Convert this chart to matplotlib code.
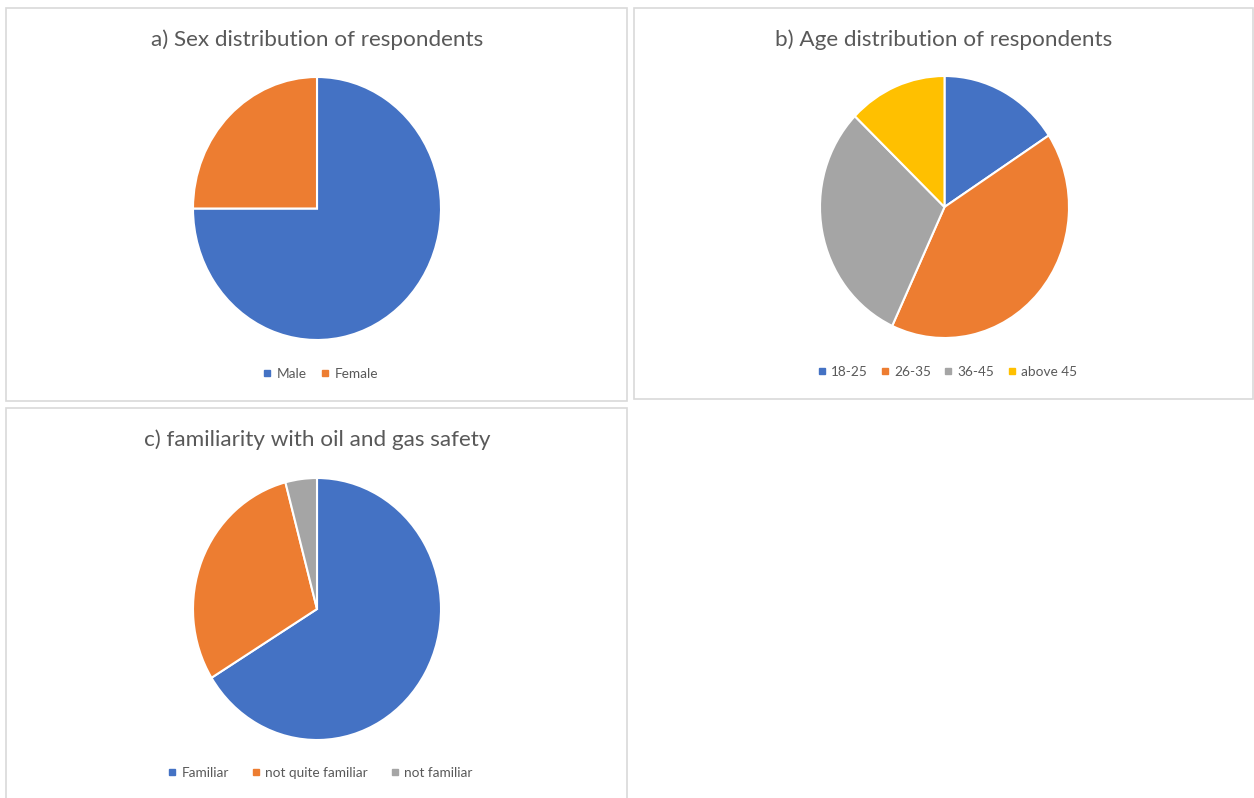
import matplotlib.pyplot as plt
from matplotlib.lines import Line2D
from matplotlib.patches import Rectangle

# data
sex_labels = ['Male', 'Female']
sex_values = [75, 25]

age_labels = ['18-25', '26-35', '36-45', 'above 45']
age_values = [15.8, 41.1, 30.3, 12.8]

fam_labels = ['Familiar', 'not quite familiar', 'not familiar']
fam_values = [66.2, 29.7, 4.1]

colors = ['#4472C4', '#ED7D31', '#A5A5A5', '#FFC000']
text_col = '#595959'

W, H = 1254, 798
fig = plt.figure(figsize=(W / 100, H / 100), dpi=100)


def px_rect(x0, y0, x1, y1):
    # pixel box (top-left origin) -> figure fraction [l, b, w, h]
    return [x0 / W, (H - y1) / H, (x1 - x0) / W, (y1 - y0) / H]


def panel(box, title, title_xy, labels, values, pie_box, leg_xy, colspacing):
    l, b, w, h = px_rect(*box)
    fig.patches.append(Rectangle((l, b), w, h, transform=fig.transFigure,
                                 fill=False, edgecolor='#D9D9D9', linewidth=1.2))
    fig.text(title_xy[0] / W, 1 - title_xy[1] / H, title, ha='center', va='center',
             fontsize=16.2, color=text_col, family='Lato')
    ax = fig.add_axes(px_rect(*pie_box))
    ax.pie(values, colors=colors[:len(values)], startangle=90, counterclock=False,
           wedgeprops=dict(edgecolor='white', linewidth=1.5))
    ax.set_aspect('auto')
    ax.set_xlim(-1, 1)
    ax.set_ylim(-1, 1)
    ax.axis('off')
    handles = [Line2D([], [], marker='s', linestyle='', markersize=5,
                      color=colors[i]) for i in range(len(labels))]
    fig.legend(handles, labels, loc='center', ncol=len(labels),
               bbox_to_anchor=(leg_xy[0] / W, 1 - leg_xy[1] / H), frameon=False,
               prop={'family': 'Lato', 'size': 9.8}, labelcolor=text_col,
               handlelength=0.7, handletextpad=0.35, columnspacing=colspacing)


panel((6, 8, 627, 401), 'a) Sex distribution of respondents', (317, 40),
      sex_labels, sex_values, (193, 77, 441, 340), (320, 374), 1.0)
panel((634, 8, 1253, 399), 'b) Age distribution of respondents', (944, 40),
      age_labels, age_values, (820, 76, 1069, 338), (947, 372), 0.9)
panel((6, 408, 627, 800), 'c) familiarity with oil and gas safety', (317, 440),
      fam_labels, fam_values, (193, 478, 441, 740), (320, 773), 1.6)

fig.savefig('out.png', dpi=100)
